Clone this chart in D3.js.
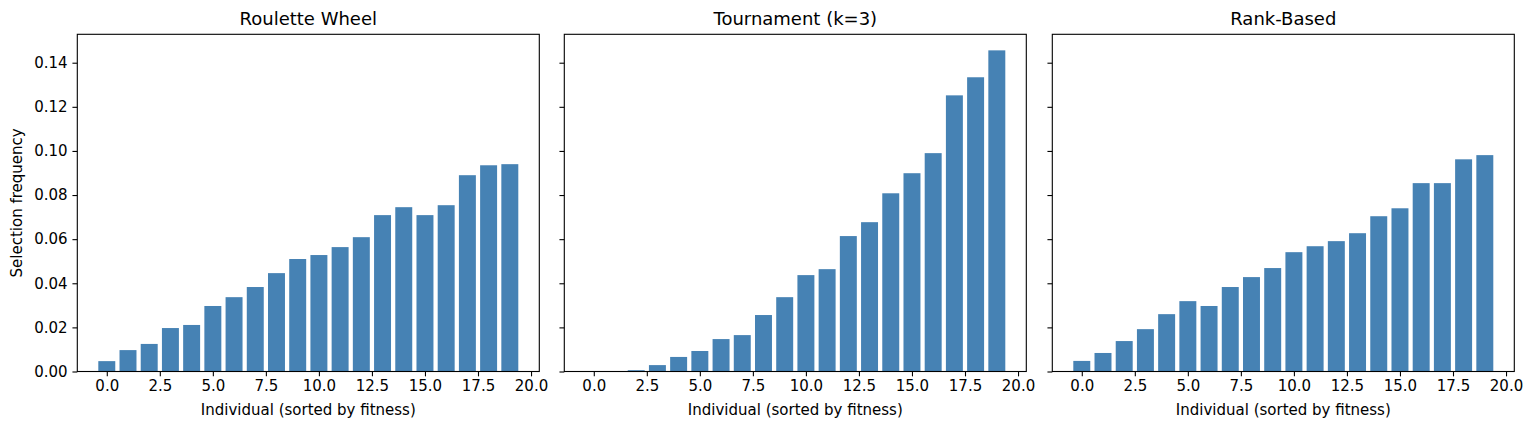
<!DOCTYPE html>
<html>
<head>
<meta charset="utf-8">
<script src="https://cdn.jsdelivr.net/npm/d3@7"></script>
<style>
  body { margin: 0; background: #fff; }
  svg text { font-family: "DejaVu Sans", sans-serif; fill: #000; }
</style>
</head>
<body>
<div id="wrapper"></div>
<script>
const individuals = d3.range(20);
const titles = ["Roulette Wheel", "Tournament (k=3)", "Rank-Based"];
const roulette = [0.0047, 0.0097, 0.0125, 0.0197, 0.0211, 0.0297, 0.0337, 0.0383, 0.0446, 0.0510,
  0.0528, 0.0564, 0.0609, 0.0709, 0.0745, 0.0709, 0.0754, 0.0890, 0.0935, 0.0940];
const tournament = [0.0, 0.0, 0.0006, 0.0029, 0.0066, 0.0093, 0.0147, 0.0165, 0.0256, 0.0337,
  0.0437, 0.0464, 0.0614, 0.0677, 0.0808, 0.0899, 0.0990, 0.1252, 0.1334, 0.1456];
const rankBased = [0.0048, 0.0084, 0.0138, 0.0192, 0.0260, 0.0319, 0.0297, 0.0383, 0.0428, 0.0469,
  0.0541, 0.0568, 0.0591, 0.0627, 0.0704, 0.0740, 0.0854, 0.0854, 0.0962, 0.0981];
const yTicks = [0, 0.02, 0.04, 0.06, 0.08, 0.10, 0.12, 0.14];
const xTicks = [0, 2.5, 5, 7.5, 10, 12.5, 15, 17.5, 20];
const series = [roulette, tournament, rankBased];

const width = 1533, height = 429;
const panelLefts = [77.3, 564.3, 1052.3];
const panelW = 462;
const plotTop = 34.3, plotBottom = 371.5;
const labelSize = "15px", titleSize = "18px";

const svg = d3.select("#wrapper").append("svg")
  .attr("width", width).attr("height", height);

const yMax = d3.max(series.flat()) * 1.05;
const yScale = d3.scaleLinear().domain([0, yMax]).range([plotBottom, plotTop]);

series.forEach((vals, p) => {
  const x0 = panelLefts[p];
  const xScale = d3.scaleLinear()
    .domain([-0.4 - 0.99, 19.4 + 0.99])
    .range([x0, x0 + panelW]);
  const g = svg.append("g");

  g.selectAll("rect.bar").data(vals).join("rect")
    .attr("class", "bar")
    .attr("x", (d, i) => xScale(individuals[i] - 0.4))
    .attr("width", (d, i) => xScale(individuals[i] + 0.4) - xScale(individuals[i] - 0.4))
    .attr("y", d => yScale(d))
    .attr("height", d => plotBottom - yScale(d))
    .attr("fill", "#4682b4");

  const xAxis = g.append("g")
    .attr("transform", `translate(0,${plotBottom})`)
    .call(d3.axisBottom(xScale).tickValues(xTicks).tickFormat(d3.format(".1f"))
      .tickSize(4.86).tickPadding(3.5).tickSizeOuter(0));
  xAxis.select(".domain").remove();
  xAxis.selectAll("text").style("font-size", labelSize);
  xAxis.selectAll("line").attr("stroke-width", 1.1);

  const yAxis = g.append("g")
    .attr("transform", `translate(${x0},0)`)
    .call(d3.axisLeft(yScale).tickValues(yTicks).tickFormat(p === 0 ? d3.format(".2f") : "")
      .tickSize(4.86).tickPadding(4.9).tickSizeOuter(0));
  yAxis.select(".domain").remove();
  yAxis.selectAll("text").style("font-size", labelSize);
  yAxis.selectAll("line").attr("stroke-width", 1.1);

  g.append("rect")
    .attr("x", x0).attr("y", plotTop)
    .attr("width", panelW).attr("height", plotBottom - plotTop)
    .attr("fill", "none").attr("stroke", "#000").attr("stroke-width", 1.1);

  g.append("text")
    .attr("x", x0 + panelW / 2).attr("y", plotTop - 9)
    .attr("text-anchor", "middle")
    .style("font-size", titleSize)
    .text(titles[p]);

  g.append("text")
    .attr("x", x0 + panelW / 2).attr("y", 415)
    .attr("text-anchor", "middle")
    .style("font-size", labelSize)
    .text("Individual (sorted by fitness)");
});

svg.append("text")
  .attr("transform", `translate(22,${(plotTop + plotBottom) / 2}) rotate(-90)`)
  .attr("text-anchor", "middle")
  .style("font-size", labelSize)
  .text("Selection frequency");
</script>
</body>
</html>
